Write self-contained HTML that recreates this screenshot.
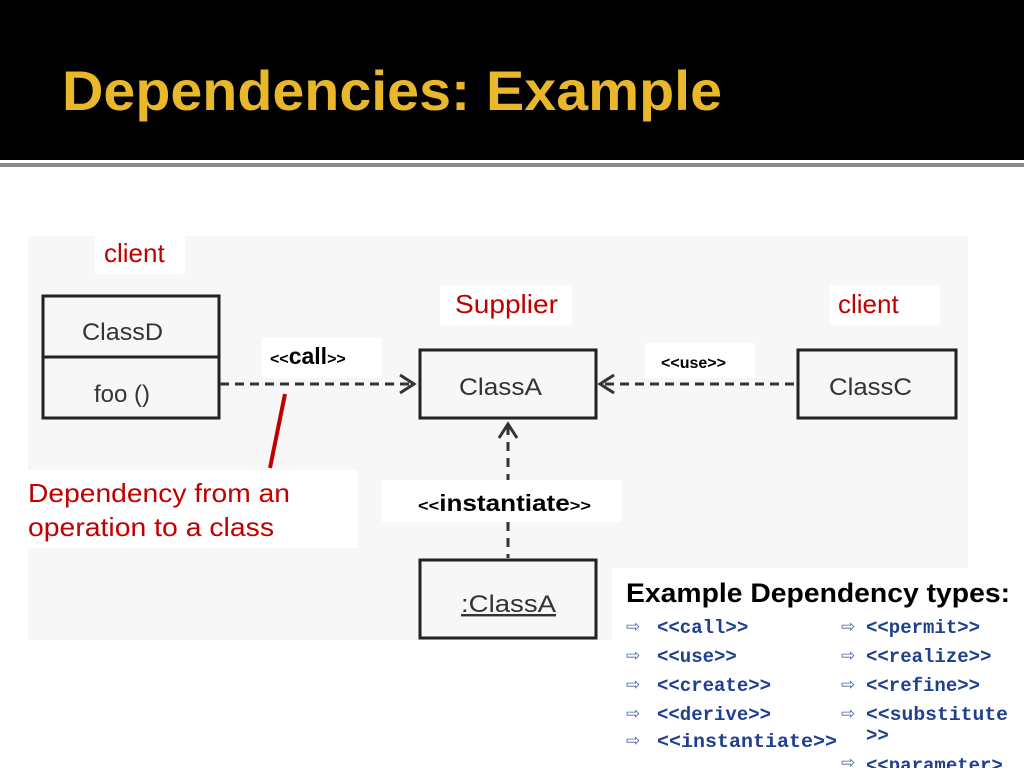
<!DOCTYPE html>
<html><head><meta charset="utf-8"><style>
body{margin:0;width:1024px;height:768px;overflow:hidden;background:#fff;font-family:"Liberation Sans",sans-serif}
</style></head><body>
<svg width="1024" height="768" xmlns="http://www.w3.org/2000/svg" font-family="Liberation Sans, sans-serif">
<rect x="0" y="0" width="1024" height="160" fill="#000"/>
<rect x="0" y="163" width="1024" height="4" fill="#8a8a8a"/>
<text x="62" y="110" font-size="56" font-weight="bold" fill="#e8b82a" textLength="660" lengthAdjust="spacingAndGlyphs">Dependencies: Example</text>
<rect x="28" y="236" width="940" height="404" fill="#f7f7f7"/>
<rect x="95" y="236" width="90" height="38" fill="#fff"/>
<rect x="440" y="285" width="132" height="40" fill="#fff"/>
<rect x="830" y="285" width="110" height="40" fill="#fff"/>
<rect x="262" y="338" width="120" height="40" fill="#fff"/>
<rect x="645" y="343" width="110" height="35" fill="#fff"/>
<rect x="22" y="470" width="336" height="78" fill="#fff"/>
<text x="104" y="262" font-size="26" fill="#c00000">client</text>
<text x="455" y="313" font-size="26" fill="#c00000" textLength="103" lengthAdjust="spacingAndGlyphs">Supplier</text>
<text x="838" y="313" font-size="26" fill="#c00000">client</text>
<rect x="43" y="296" width="176" height="122" fill="none" stroke="#222" stroke-width="3"/>
<line x1="43" y1="357" x2="219" y2="357" stroke="#222" stroke-width="3"/>
<text x="82" y="340" font-size="24" fill="#333" textLength="81" lengthAdjust="spacingAndGlyphs">ClassD</text>
<text x="94" y="402" font-size="24" fill="#333">foo  ()</text>
<rect x="420" y="350" width="176" height="68" fill="none" stroke="#222" stroke-width="3"/>
<text x="459" y="395" font-size="24" fill="#333" textLength="83" lengthAdjust="spacingAndGlyphs">ClassA</text>
<rect x="798" y="350" width="158" height="68" fill="none" stroke="#222" stroke-width="3"/>
<text x="829" y="395" font-size="24" fill="#333" textLength="83" lengthAdjust="spacingAndGlyphs">ClassC</text>
<rect x="420" y="560" width="176" height="78" fill="none" stroke="#222" stroke-width="3"/>
<text x="461" y="612" font-size="24" fill="#333" text-decoration="underline" textLength="95" lengthAdjust="spacingAndGlyphs">:ClassA</text>
<line x1="220" y1="384" x2="412" y2="384" stroke="#333" stroke-width="3" stroke-dasharray="9,6"/>
<polyline points="400,375 414,384 400,393" fill="none" stroke="#333" stroke-width="3"/>
<line x1="605" y1="384" x2="797" y2="384" stroke="#333" stroke-width="3" stroke-dasharray="9,6"/>
<polyline points="614,375 600,384 614,393" fill="none" stroke="#333" stroke-width="3"/>
<line x1="508" y1="426" x2="508" y2="558" stroke="#333" stroke-width="3" stroke-dasharray="9,7"/>
<polyline points="499,438 508,424 517,438" fill="none" stroke="#333" stroke-width="3"/>
<rect x="382" y="480" width="240" height="42" fill="#fff"/>
<line x1="285" y1="394" x2="270" y2="468" stroke="#c00000" stroke-width="4"/>
<text x="270" y="364" font-size="16" font-weight="bold" fill="#000">&lt;&lt;<tspan font-size="23">call</tspan>&gt;&gt;</text>
<text x="661" y="368" font-size="16" font-weight="bold" fill="#000">&lt;&lt;use&gt;&gt;</text>
<text x="418" y="511" font-size="16" font-weight="bold" fill="#000" textLength="173" lengthAdjust="spacingAndGlyphs">&lt;&lt;<tspan font-size="23">instantiate</tspan>&gt;&gt;</text>
<text x="28" y="502" font-size="26" fill="#c00000" textLength="262" lengthAdjust="spacingAndGlyphs">Dependency from an</text>
<text x="28" y="536" font-size="26" fill="#c00000" textLength="246" lengthAdjust="spacingAndGlyphs">operation to a class</text>
<rect x="612" y="568" width="412" height="200" fill="#fff"/>
<text x="626" y="602" font-size="27" font-weight="bold" fill="#000" textLength="384" lengthAdjust="spacingAndGlyphs">Example Dependency types:</text>
<g font-family="Liberation Mono, monospace" font-size="19" font-weight="bold" fill="#1f3f8f">
<text x="657" y="633">&lt;&lt;call&gt;&gt;</text>
<text x="657" y="662">&lt;&lt;use&gt;&gt;</text>
<text x="657" y="691">&lt;&lt;create&gt;&gt;</text>
<text x="657" y="720">&lt;&lt;derive&gt;&gt;</text>
<text x="657" y="747" textLength="180" lengthAdjust="spacingAndGlyphs">&lt;&lt;instantiate&gt;&gt;</text>
<text x="866" y="633">&lt;&lt;permit&gt;&gt;</text>
<text x="866" y="662">&lt;&lt;realize&gt;&gt;</text>
<text x="866" y="691">&lt;&lt;refine&gt;&gt;</text>
<text x="866" y="720" textLength="142" lengthAdjust="spacingAndGlyphs">&lt;&lt;substitute</text>
<text x="866" y="741">&gt;&gt;</text>
<text x="866" y="771">&lt;&lt;parameter&gt;</text>
</g>
<g font-size="17" fill="#4a68a8">
<text x="626" y="632">⇨</text><text x="626" y="661">⇨</text><text x="626" y="690">⇨</text><text x="626" y="719">⇨</text><text x="626" y="746">⇨</text>
<text x="841" y="632">⇨</text><text x="841" y="661">⇨</text><text x="841" y="690">⇨</text><text x="841" y="719">⇨</text><text x="841" y="768">⇨</text>
</g>
</svg>
</body></html>
